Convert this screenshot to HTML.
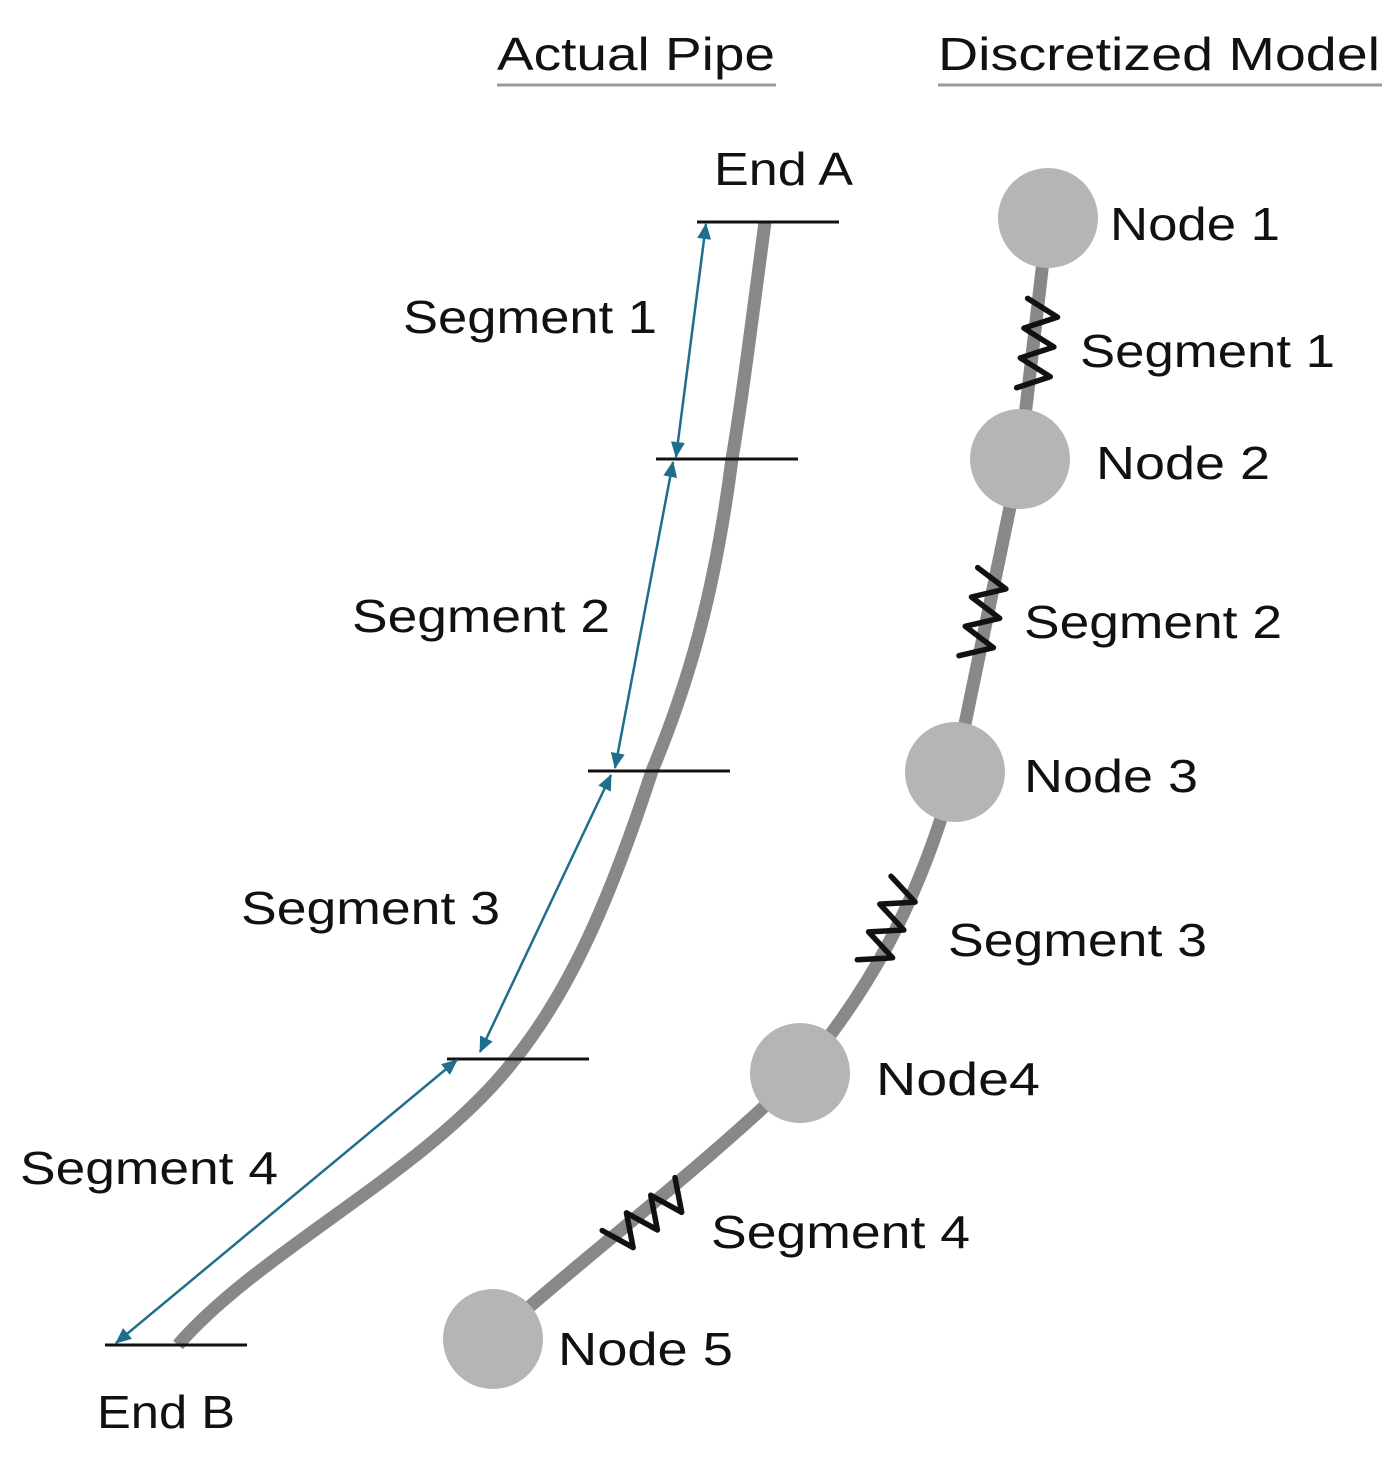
<!DOCTYPE html>
<html><head><meta charset="utf-8"><style>
html,body{margin:0;padding:0;background:#fff;}
svg{display:block;}
text{font-family:"Liberation Sans",sans-serif;font-size:46px;fill:#111;}
</style></head><body>
<svg width="1397" height="1458" viewBox="0 0 1397 1458" xmlns="http://www.w3.org/2000/svg">
<defs>
<marker id="ah" markerWidth="16" markerHeight="14" refX="15" refY="7" orient="auto-start-reverse" markerUnits="userSpaceOnUse">
<path d="M0,0 L16,7 L0,14 z" fill="#1f6e8c"/>
</marker>
<g id="spr"><polyline points="-45,-16 -30,16 -15,-16 0,16 15,-16 30,16 45,-16" fill="none" stroke="#111" stroke-width="5.5" stroke-linejoin="round" stroke-linecap="round"/></g>
</defs>
<text x="497" y="70" textLength="278" lengthAdjust="spacingAndGlyphs">Actual Pipe</text>
<line x1="497" y1="85" x2="776" y2="85" stroke="#999" stroke-width="3"/>
<text x="938" y="70" textLength="442" lengthAdjust="spacingAndGlyphs">Discretized Model</text>
<line x1="938" y1="85" x2="1382" y2="85" stroke="#999" stroke-width="3"/>

<path d="M765,222 C752,320 742,400 732,459 C715,590 690,680 652,771 C610,900 570,990 515,1059 C430,1170 260,1250 178,1345" fill="none" stroke="#888" stroke-width="13"/>
<g stroke="#111" stroke-width="3">
<line x1="697" y1="222" x2="839" y2="222"/>
<line x1="656" y1="459" x2="798" y2="459"/>
<line x1="588" y1="771" x2="730" y2="771"/>
<line x1="447" y1="1059" x2="589" y2="1059"/>
<line x1="105" y1="1345" x2="247" y2="1345"/>
</g>
<g stroke="#1f6e8c" stroke-width="2.5" marker-start="url(#ah)" marker-end="url(#ah)">
<line x1="706" y1="224" x2="676" y2="457"/>
<line x1="673" y1="462" x2="615" y2="768"/>
<line x1="611" y1="775" x2="480" y2="1052"/>
<line x1="457" y1="1060" x2="116" y2="1343"/>
</g>
<text x="714" y="185" textLength="139" lengthAdjust="spacingAndGlyphs">End A</text>
<text x="403" y="333" textLength="254" lengthAdjust="spacingAndGlyphs">Segment 1</text>
<text x="352" y="632" textLength="258" lengthAdjust="spacingAndGlyphs">Segment 2</text>
<text x="241" y="924" textLength="259" lengthAdjust="spacingAndGlyphs">Segment 3</text>
<text x="20" y="1184" textLength="258" lengthAdjust="spacingAndGlyphs">Segment 4</text>
<text x="97" y="1428" textLength="138" lengthAdjust="spacingAndGlyphs">End B</text>

<path d="M1048,218 L1020,459 L955,772 C920,900 870,990 800,1073 C700,1170 580,1260 493,1339" fill="none" stroke="#888" stroke-width="13"/>
<use href="#spr" transform="translate(1038,345) rotate(-83)"/>
<use href="#spr" transform="translate(984,615) rotate(-78)"/>
<use href="#spr" transform="translate(889,924) rotate(-68)"/>
<use href="#spr" transform="translate(648,1217) rotate(-36)"/>
<g fill="#b5b5b5">
<circle cx="1048" cy="218" r="50"/>
<circle cx="1020" cy="459" r="50"/>
<circle cx="955" cy="772" r="50"/>
<circle cx="800" cy="1073" r="50"/>
<circle cx="493" cy="1339" r="50"/>
</g>
<text x="1110" y="240" textLength="170" lengthAdjust="spacingAndGlyphs">Node 1</text>
<text x="1080" y="367" textLength="255" lengthAdjust="spacingAndGlyphs">Segment 1</text>
<text x="1096" y="479" textLength="174" lengthAdjust="spacingAndGlyphs">Node 2</text>
<text x="1024" y="638" textLength="258" lengthAdjust="spacingAndGlyphs">Segment 2</text>
<text x="1024" y="792" textLength="174" lengthAdjust="spacingAndGlyphs">Node 3</text>
<text x="948" y="956" textLength="259" lengthAdjust="spacingAndGlyphs">Segment 3</text>
<text x="876" y="1095" textLength="164" lengthAdjust="spacingAndGlyphs">Node4</text>
<text x="711" y="1248" textLength="259" lengthAdjust="spacingAndGlyphs">Segment 4</text>
<text x="558" y="1365" textLength="175" lengthAdjust="spacingAndGlyphs">Node 5</text>
</svg>
</body></html>
